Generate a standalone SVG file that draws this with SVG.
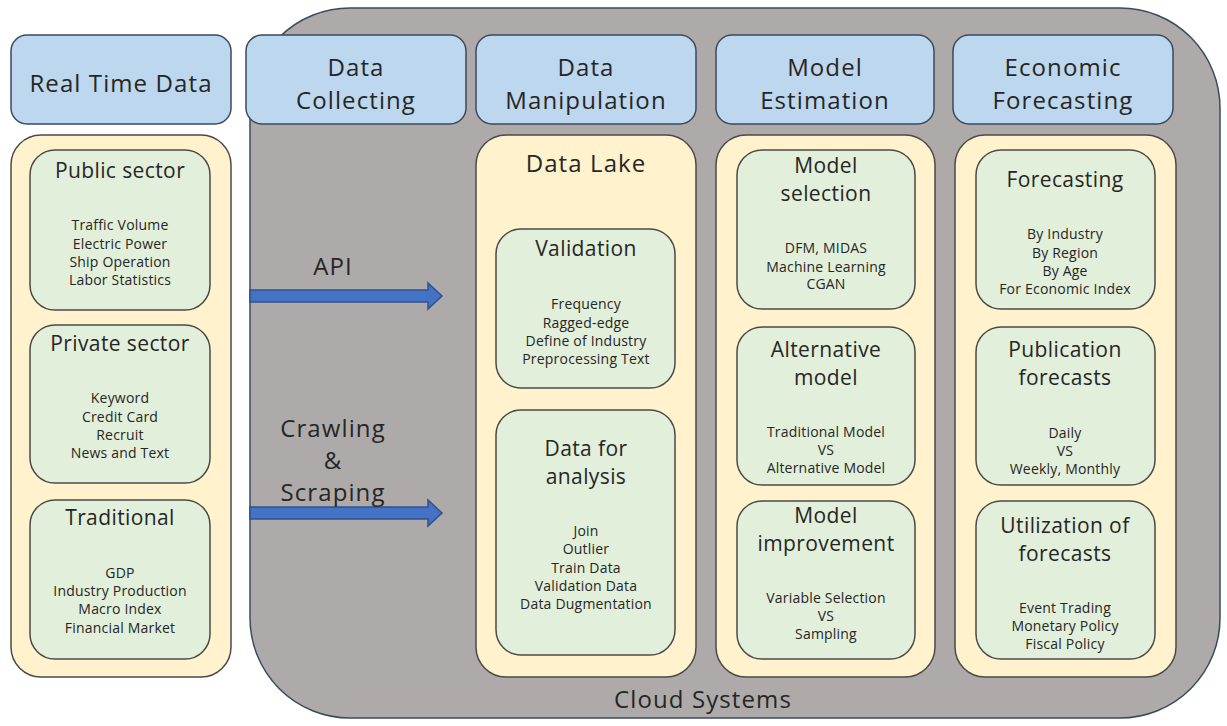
<svg xmlns="http://www.w3.org/2000/svg" width="1227" height="726" viewBox="0 0 1227 726">
<defs>
<style>
text{font-family:"Open Sans","Noto Sans","Liberation Sans",sans-serif;fill:#262626;text-anchor:middle;dominant-baseline:central}
.hdr{fill:#bdd7ee;stroke:#3b4a5e;stroke-width:1.5}
.col{fill:#fff2cc;stroke:#4a4a4a;stroke-width:1.5}
.box{fill:#e2efda;stroke:#4a4a4a;stroke-width:1.5}
.ht{font-size:24px;letter-spacing:1.1px}
.tt{font-size:21px;letter-spacing:0.4px}
.it{font-size:14px;letter-spacing:0.2px}
.arr{fill:#4472c4;stroke:#2f528f;stroke-width:1.5}
</style>
</defs>
<rect width="1227" height="726" fill="#ffffff"/>
<g id="cloud">
<rect x="250" y="8" width="970" height="710" rx="100" ry="100" fill="#aeaaaa" stroke="#3b4a5e" stroke-width="1.5"/>
<text x="703" y="698" class="ht">Cloud Systems</text>
</g>
<g id="hdr-realtime"><rect class="hdr" x="11" y="35" width="220" height="89" rx="16"/><text class="ht" x="121" y="82">Real Time Data</text></g>
<g id="hdr-collecting"><rect class="hdr" x="246" y="35" width="220" height="89" rx="16"/><text class="ht" x="356" y="66">Data</text><text class="ht" x="356" y="99">Collecting</text></g>
<g id="hdr-manipulation"><rect class="hdr" x="476" y="35" width="220" height="89" rx="16"/><text class="ht" x="586" y="66">Data</text><text class="ht" x="586" y="99">Manipulation</text></g>
<g id="hdr-model"><rect class="hdr" x="716" y="35" width="218" height="89" rx="16"/><text class="ht" x="825" y="66">Model</text><text class="ht" x="825" y="99">Estimation</text></g>
<g id="hdr-econ"><rect class="hdr" x="953" y="35" width="220" height="89" rx="16"/><text class="ht" x="1063" y="66">Economic</text><text class="ht" x="1063" y="99">Forecasting</text></g>

<g id="col-realtime"><rect class="col" x="11" y="135" width="220" height="542" rx="30"/></g>
<g id="col-datalake"><rect class="col" x="476" y="135" width="220" height="542" rx="30"/><text class="ht" x="586" y="162">Data Lake</text></g>
<g id="col-model"><rect class="col" x="716" y="135" width="219" height="542" rx="30"/></g>
<g id="col-econ"><rect class="col" x="955" y="135" width="221" height="542" rx="30"/></g>

<g id="public-sector"><rect class="box" x="30" y="150" width="180" height="160" rx="25"/>
<text class="tt" x="120" y="170">Public sector</text>
<text class="it" x="120" y="224">Traffic Volume</text><text class="it" x="120" y="243">Electric Power</text><text class="it" x="120" y="261">Ship Operation</text><text class="it" x="120" y="279">Labor Statistics</text></g>
<g id="private-sector"><rect class="box" x="30" y="325" width="180" height="158" rx="25"/>
<text class="tt" x="120" y="343">Private sector</text>
<text class="it" x="120" y="397">Keyword</text><text class="it" x="120" y="416">Credit Card</text><text class="it" x="120" y="434">Recruit</text><text class="it" x="120" y="452">News and Text</text></g>
<g id="traditional"><rect class="box" x="30" y="500" width="180" height="159" rx="25"/>
<text class="tt" x="120" y="517">Traditional</text>
<text class="it" x="120" y="572">GDP</text><text class="it" x="120" y="590">Industry Production</text><text class="it" x="120" y="608">Macro Index</text><text class="it" x="120" y="627">Financial Market</text></g>

<g id="validation"><rect class="box" x="496" y="229" width="179" height="159" rx="25"/>
<text class="tt" x="586" y="248">Validation</text>
<text class="it" x="586" y="303">Frequency</text><text class="it" x="586" y="322">Ragged-edge</text><text class="it" x="586" y="340">Define of Industry</text><text class="it" x="586" y="358">Preprocessing Text</text></g>
<g id="data-analysis"><rect class="box" x="496" y="410" width="179" height="245" rx="25"/>
<text class="tt" x="586" y="448">Data for</text><text class="tt" x="586" y="476">analysis</text>
<text class="it" x="586" y="530">Join</text><text class="it" x="586" y="548">Outlier</text><text class="it" x="586" y="567">Train Data</text><text class="it" x="586" y="585">Validation Data</text><text class="it" x="586" y="603">Data Dugmentation</text></g>

<g id="model-selection"><rect class="box" x="737" y="150" width="178" height="159" rx="25"/>
<text class="tt" x="826" y="165">Model</text><text class="tt" x="826" y="193">selection</text>
<text class="it" x="826" y="247">DFM, MIDAS</text><text class="it" x="826" y="266">Machine Learning</text><text class="it" x="826" y="283">CGAN</text></g>
<g id="alternative-model"><rect class="box" x="737" y="327" width="178" height="158" rx="25"/>
<text class="tt" x="826" y="349">Alternative</text><text class="tt" x="826" y="377">model</text>
<text class="it" x="826" y="431">Traditional Model</text><text class="it" x="826" y="449">VS</text><text class="it" x="826" y="467">Alternative Model</text></g>
<g id="model-improvement"><rect class="box" x="737" y="501" width="178" height="158" rx="25"/>
<text class="tt" x="826" y="515">Model</text><text class="tt" x="826" y="543">improvement</text>
<text class="it" x="826" y="597">Variable Selection</text><text class="it" x="826" y="615">VS</text><text class="it" x="826" y="633">Sampling</text></g>

<g id="forecasting"><rect class="box" x="976" y="150" width="179" height="159" rx="25"/>
<text class="tt" x="1065" y="179">Forecasting</text>
<text class="it" x="1065" y="233">By Industry</text><text class="it" x="1065" y="252">By Region</text><text class="it" x="1065" y="270">By Age</text><text class="it" x="1065" y="288">For Economic Index</text></g>
<g id="publication"><rect class="box" x="976" y="327" width="179" height="158" rx="25"/>
<text class="tt" x="1065" y="349">Publication</text><text class="tt" x="1065" y="377">forecasts</text>
<text class="it" x="1065" y="432">Daily</text><text class="it" x="1065" y="450">VS</text><text class="it" x="1065" y="468">Weekly, Monthly</text></g>
<g id="utilization"><rect class="box" x="976" y="501" width="179" height="158" rx="25"/>
<text class="tt" x="1065" y="525">Utilization of</text><text class="tt" x="1065" y="553">forecasts</text>
<text class="it" x="1065" y="607">Event Trading</text><text class="it" x="1065" y="625">Monetary Policy</text><text class="it" x="1065" y="643">Fiscal Policy</text></g>

<g id="connectors">
<polygon class="arr" points="250,290 428,290 428,283 442,296 428,309 428,302 250,302"/>
<text class="ht" x="333" y="265">API</text>
<polygon class="arr" points="250,507 428,507 428,500 442,513 428,526 428,519 250,519"/>
<text class="ht" x="333" y="427">Crawling</text>
<text class="ht" x="333" y="459">&amp;</text>
<text class="ht" x="333" y="491">Scraping</text>
</g>
</svg>
